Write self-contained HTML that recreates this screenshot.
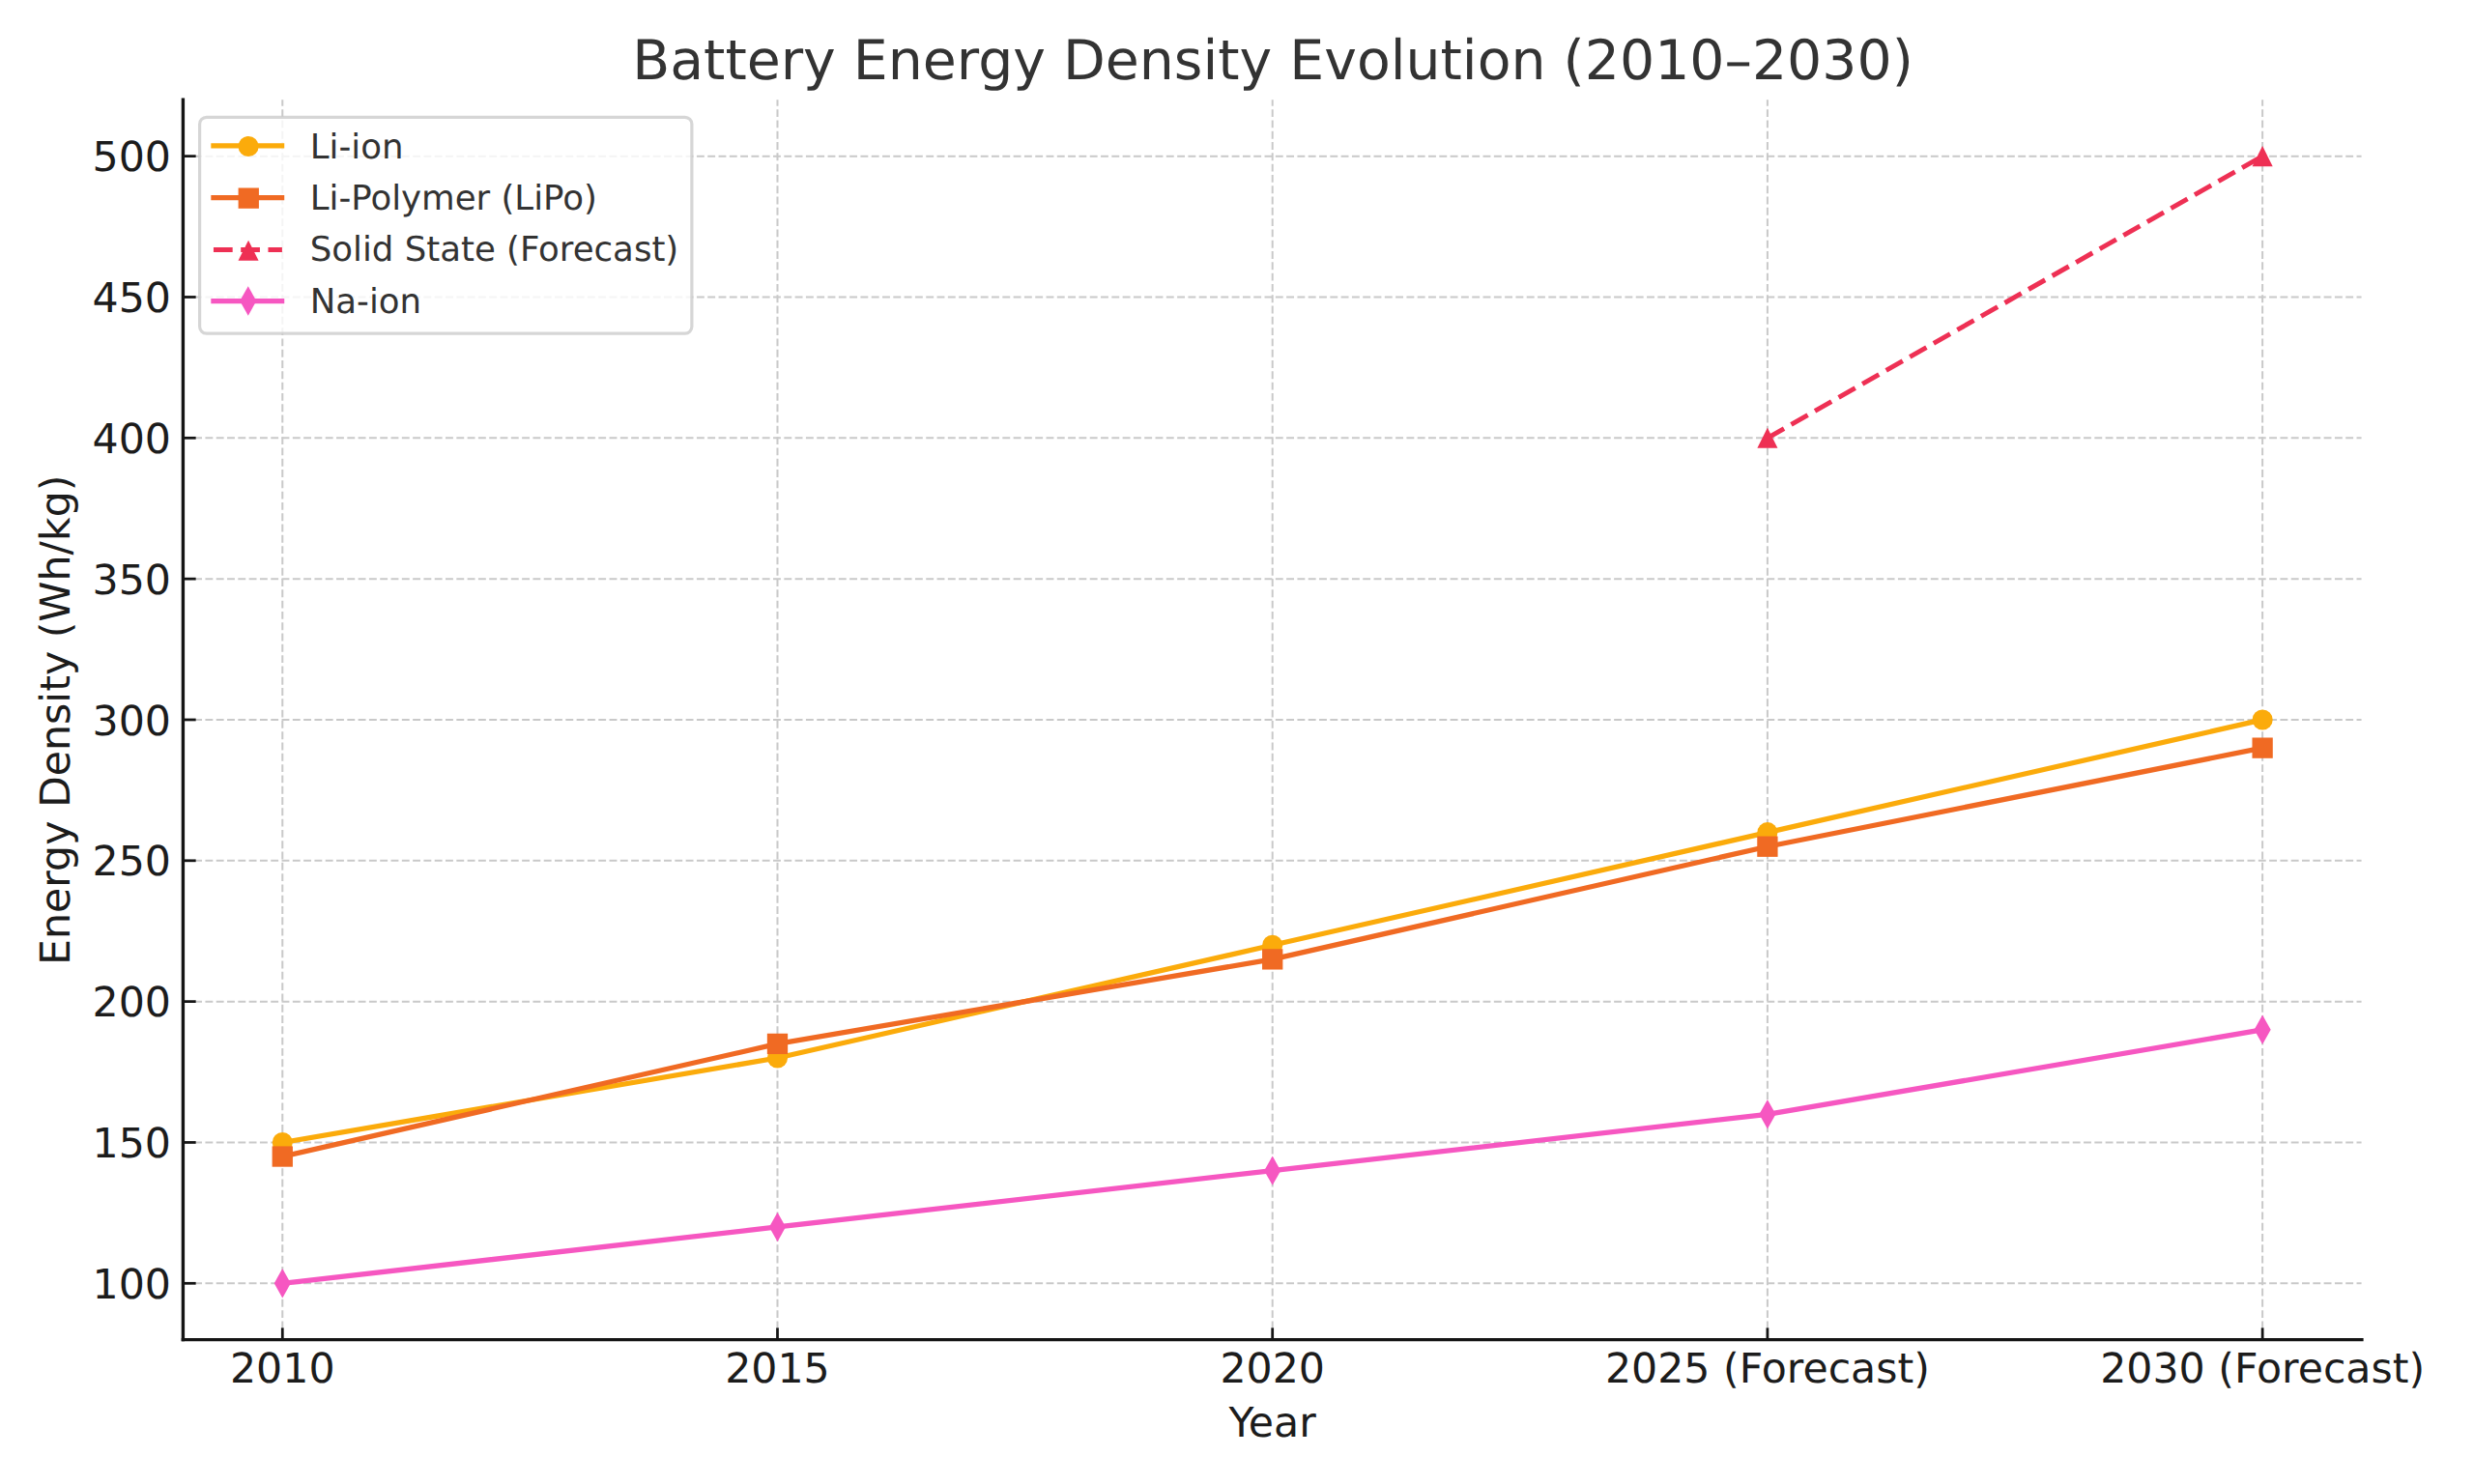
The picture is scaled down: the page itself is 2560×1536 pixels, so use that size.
<!DOCTYPE html>
<html lang="en">
<head>
<meta charset="utf-8">
<title>Battery Energy Density Evolution (2010–2030)</title>
<style>
html,body{margin:0;padding:0;background:#ffffff;}
body{width:2560px;height:1536px;overflow:hidden;}
svg{display:block;}
</style>
</head>
<body>
<svg width="2560" height="1536" viewBox="0 0 2560 1536" font-family="'DejaVu Sans','Liberation Sans',sans-serif" text-rendering="geometricPrecision">
<rect width="2560" height="1536" fill="#ffffff"/>
<g stroke="#c9c9c9" stroke-width="2" stroke-dasharray="7.89 3.41" fill="none">
<path d="M292.27 1386.63V103.32"/>
<path d="M804.49 1386.63V103.32"/>
<path d="M1316.7 1386.63V103.32"/>
<path d="M1828.91 1386.63V103.32"/>
<path d="M2341.13 1386.63V103.32"/>
<path d="M189.83 1328.3H2443.57"/>
<path d="M189.83 1182.47H2443.57"/>
<path d="M189.83 1036.64H2443.57"/>
<path d="M189.83 890.81H2443.57"/>
<path d="M189.83 744.97H2443.57"/>
<path d="M189.83 599.14H2443.57"/>
<path d="M189.83 453.31H2443.57"/>
<path d="M189.83 307.48H2443.57"/>
<path d="M189.83 161.65H2443.57"/>
</g>
<polyline points="292.27,1182.47 804.49,1094.97 1316.7,978.3 1828.91,861.64 2341.13,744.97" fill="none" stroke="#fbab0b" stroke-width="5.25" stroke-linecap="square" stroke-linejoin="round"/>
<circle cx="292.27" cy="1182.47" r="10.55" fill="#fbab0b"/>
<circle cx="804.49" cy="1094.97" r="10.55" fill="#fbab0b"/>
<circle cx="1316.7" cy="978.3" r="10.55" fill="#fbab0b"/>
<circle cx="1828.91" cy="861.64" r="10.55" fill="#fbab0b"/>
<circle cx="2341.13" cy="744.97" r="10.55" fill="#fbab0b"/>
<polyline points="292.27,1197.05 804.49,1080.39 1316.7,992.89 1828.91,876.22 2341.13,774.14" fill="none" stroke="#f06a23" stroke-width="5.25" stroke-linecap="square" stroke-linejoin="round"/>
<rect x="281.62" y="1186.4" width="21.3" height="21.3" fill="#f06a23"/>
<rect x="793.84" y="1069.74" width="21.3" height="21.3" fill="#f06a23"/>
<rect x="1306.05" y="982.24" width="21.3" height="21.3" fill="#f06a23"/>
<rect x="1818.26" y="865.57" width="21.3" height="21.3" fill="#f06a23"/>
<rect x="2330.48" y="763.49" width="21.3" height="21.3" fill="#f06a23"/>
<polyline points="1828.91,453.31 2341.13,161.65" fill="none" stroke="#ee3054" stroke-width="4.95" stroke-dasharray="19.73 8.53" stroke-linecap="butt"/>
<polygon points="1828.91,442.76 1818.37,463.86 1839.46,463.86" fill="#ee3054"/>
<polygon points="2341.13,151.1 2330.58,172.2 2351.68,172.2" fill="#ee3054"/>
<polyline points="292.27,1328.3 804.49,1269.97 1316.7,1211.63 1828.91,1153.3 2341.13,1065.8" fill="none" stroke="#f657c1" stroke-width="5.25" stroke-linecap="square" stroke-linejoin="round"/>
<polygon points="292.27,1313.1 283.72,1328.3 292.27,1343.5 300.82,1328.3" fill="#f657c1"/>
<polygon points="804.49,1254.77 795.94,1269.97 804.49,1285.17 813.03,1269.97" fill="#f657c1"/>
<polygon points="1316.7,1196.43 1308.15,1211.63 1316.7,1226.83 1325.25,1211.63" fill="#f657c1"/>
<polygon points="1828.91,1138.1 1820.37,1153.3 1828.91,1168.5 1837.46,1153.3" fill="#f657c1"/>
<polygon points="2341.13,1050.6 2332.58,1065.8 2341.13,1081 2349.68,1065.8" fill="#f657c1"/>
<g stroke="#151515" stroke-width="2.75" fill="none">
<path d="M292.27 1386.65V1374.4"/>
<path d="M804.49 1386.65V1374.4"/>
<path d="M1316.7 1386.65V1374.4"/>
<path d="M1828.91 1386.65V1374.4"/>
<path d="M2341.13 1386.65V1374.4"/>
<path d="M189.4 1328.3H202.65"/>
<path d="M189.4 1182.47H202.65"/>
<path d="M189.4 1036.64H202.65"/>
<path d="M189.4 890.81H202.65"/>
<path d="M189.4 744.97H202.65"/>
<path d="M189.4 599.14H202.65"/>
<path d="M189.4 453.31H202.65"/>
<path d="M189.4 307.48H202.65"/>
<path d="M189.4 161.65H202.65"/>
</g>
<g stroke="#151515" stroke-width="3.4" fill="none">
<path d="M189.4 103.3V1386.65" stroke-linecap="square"/>
<path d="M189.4 1386.65H2443.9" stroke-linecap="square"/>
</g>
<g fill="#1c1c1c" font-size="42.67">
<text x="292.27" y="1431.1" text-anchor="middle">2010</text>
<text x="804.49" y="1431.1" text-anchor="middle">2015</text>
<text x="1316.7" y="1431.1" text-anchor="middle">2020</text>
<text x="1828.91" y="1431.1" text-anchor="middle">2025 (Forecast)</text>
<text x="2341.13" y="1431.1" text-anchor="middle">2030 (Forecast)</text>
<text x="176.95" y="1343.85" text-anchor="end">100</text>
<text x="176.95" y="1198.02" text-anchor="end">150</text>
<text x="176.95" y="1052.19" text-anchor="end">200</text>
<text x="176.95" y="906.36" text-anchor="end">250</text>
<text x="176.95" y="760.52" text-anchor="end">300</text>
<text x="176.95" y="614.69" text-anchor="end">350</text>
<text x="176.95" y="468.86" text-anchor="end">400</text>
<text x="176.95" y="323.03" text-anchor="end">450</text>
<text x="176.95" y="177.2" text-anchor="end">500</text>
</g>
<text x="1316.65" y="1486.9" text-anchor="middle" font-size="42.67" fill="#1c1c1c">Year</text>
<text transform="translate(72.1 745.27) rotate(-90)" text-anchor="middle" font-size="42.67" fill="#1c1c1c">Energy Density (Wh/kg)</text>
<text x="1317.05" y="82.2" text-anchor="middle" font-size="56.89" fill="#333333">Battery Energy Density Evolution (2010–2030)</text>
<rect x="206.6" y="121.4" width="509.3" height="223.8" rx="7.1" ry="7.1" fill="#ffffff" fill-opacity="0.8" stroke="#cccccc" stroke-opacity="0.8" stroke-width="3.2"/>
<path d="M220.95 150.86H291.6" stroke="#fbab0b" stroke-width="5.25" stroke-linecap="square" fill="none"/>
<circle cx="257.05" cy="151.44" r="10.55" fill="#fbab0b"/>
<text x="320.75" y="163.6" font-size="35.56" fill="#333333">Li-ion</text>
<path d="M220.95 204.7H291.6" stroke="#f06a23" stroke-width="5.25" stroke-linecap="square" fill="none"/>
<rect x="246.6" y="194.5" width="21.3" height="21.3" fill="#f06a23"/>
<text x="320.75" y="216.9" font-size="35.56" fill="#333333">Li-Polymer (LiPo)</text>
<path d="M220.95 258.5H291.9" stroke="#ee3054" stroke-width="4.95" stroke-dasharray="19.73 8.53" fill="none"/>
<polygon points="257.05,248.75 246.5,269.85 267.6,269.85" fill="#ee3054"/>
<text x="320.75" y="270.3" font-size="35.56" fill="#333333">Solid State (Forecast)</text>
<path d="M220.95 311.5H291.6" stroke="#f657c1" stroke-width="5.25" stroke-linecap="square" fill="none"/>
<polygon points="256.75,296.25 248.2,311.45 256.75,326.65 265.3,311.45" fill="#f657c1"/>
<text x="320.75" y="323.6" font-size="35.56" fill="#333333">Na-ion</text>
</svg>
</body>
</html>
